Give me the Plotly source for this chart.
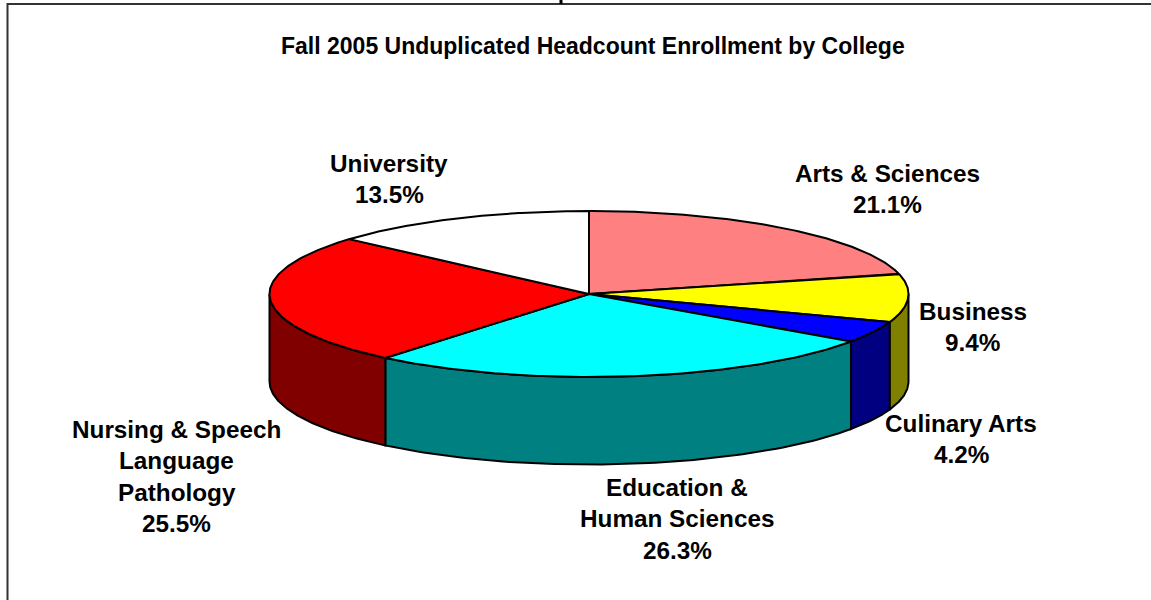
import numpy as np
import plotly.graph_objects as go

categories = ["Arts & Sciences", "Business", "Culinary Arts",
              "Education & Human Sciences", "Nursing & Speech Language Pathology", "University"]
values = [21.1, 9.4, 4.2, 26.3, 25.5, 13.5]
top_colors = ["#FF8080", "#FFFF00", "#0000FF", "#00FFFF", "#FF0000", "#FFFFFF"]
wall_colors = ["#804040", "#808000", "#000080", "#008080", "#800000", "#808080"]
label_lines = [
    ["Arts & Sciences"], ["Business"], ["Culinary Arts"],
    ["Education &", "Human Sciences"], ["Nursing & Speech", "Language", "Pathology"], ["University"],
]
title_text = "Fall 2005 Unduplicated Headcount Enrollment by College"

# layout geometry of the drawn pie (page pixels)
CX, CY, RX, RY, DEPTH = 589, 294, 319.5, 83, 87.5
LINE_W = 2
FONT = "Liberation Sans"
LABEL_POS = [(887, 173), (972.5, 311), (961, 423), (677, 487), (176.5, 429), (389, 163)]


def ex(t):
    return CX + RX * np.sin(t)


def ey(t):
    return CY - RY * np.cos(t)


fig = go.Figure()

# frame: left edge and top edge only, plus the clipped descender above the top edge
fig.add_trace(go.Scatter(x=[7.5, 7.5, 1151], y=[600, 4, 4], mode="lines",
                         line=dict(color="#333333", width=2), hoverinfo="skip", showlegend=False))
fig.add_trace(go.Scatter(x=[561, 561], y=[0, 4], mode="lines",
                         line=dict(color="#000000", width=3), hoverinfo="skip", showlegend=False))

edges = np.radians(np.concatenate([[0], np.cumsum(values)]) * 3.6)

# side walls (only the front half, between 90 and 270 degrees)
for i in range(len(values)):
    a, b = max(edges[i], np.pi / 2), min(edges[i + 1], 3 * np.pi / 2)
    if b <= a:
        continue
    t = np.linspace(a, b, 80)
    xs = np.concatenate([ex(t), ex(t[::-1]), ex(t[:1])])
    ys = np.concatenate([ey(t), ey(t[::-1]) + DEPTH, ey(t[:1])])
    fig.add_trace(go.Scatter(x=xs, y=ys, mode="lines", fill="toself", fillcolor=wall_colors[i],
                             line=dict(color="#000000", width=LINE_W), name=categories[i],
                             hoverinfo="skip", showlegend=False))

# top faces
for i in range(len(values)):
    t = np.linspace(edges[i], edges[i + 1], 120)
    xs = np.concatenate([[CX], ex(t), [CX]])
    ys = np.concatenate([[CY], ey(t), [CY]])
    fig.add_trace(go.Scatter(x=xs, y=ys, mode="lines", fill="toself", fillcolor=top_colors[i],
                             line=dict(color="#000000", width=LINE_W), name=categories[i],
                             text=f"{categories[i]}: {values[i]}%", hoverinfo="text", showlegend=False))

# labels
SIZE = 24.3
for i, lines in enumerate(label_lines):
    x0, y0 = LABEL_POS[i]
    rows = lines + [f"{values[i]:.1f}%"]
    for j, row in enumerate(rows):
        fig.add_annotation(x=x0, y=y0 + 31.5 * j, text=row, showarrow=False,
                           xanchor="center", yanchor="middle",
                           font=dict(family=FONT, size=SIZE, color="#000000", weight=700))

fig.add_annotation(x=592.5, y=46, text=title_text, showarrow=False, xanchor="center", yanchor="middle",
                   font=dict(family=FONT, size=23, color="#000000", weight=700))

fig.update_layout(
    width=1151, height=600, margin=dict(l=0, r=0, t=0, b=0, pad=0),
    paper_bgcolor="#FFFFFF", plot_bgcolor="#FFFFFF", showlegend=False,
    xaxis=dict(range=[0, 1151], visible=False, fixedrange=True),
    yaxis=dict(range=[600, 0], visible=False, fixedrange=True),
)
fig.write_html("out.html", config={"displayModeBar": False},
               post_script="document.body.style.margin='0';document.body.style.overflow='hidden';")
